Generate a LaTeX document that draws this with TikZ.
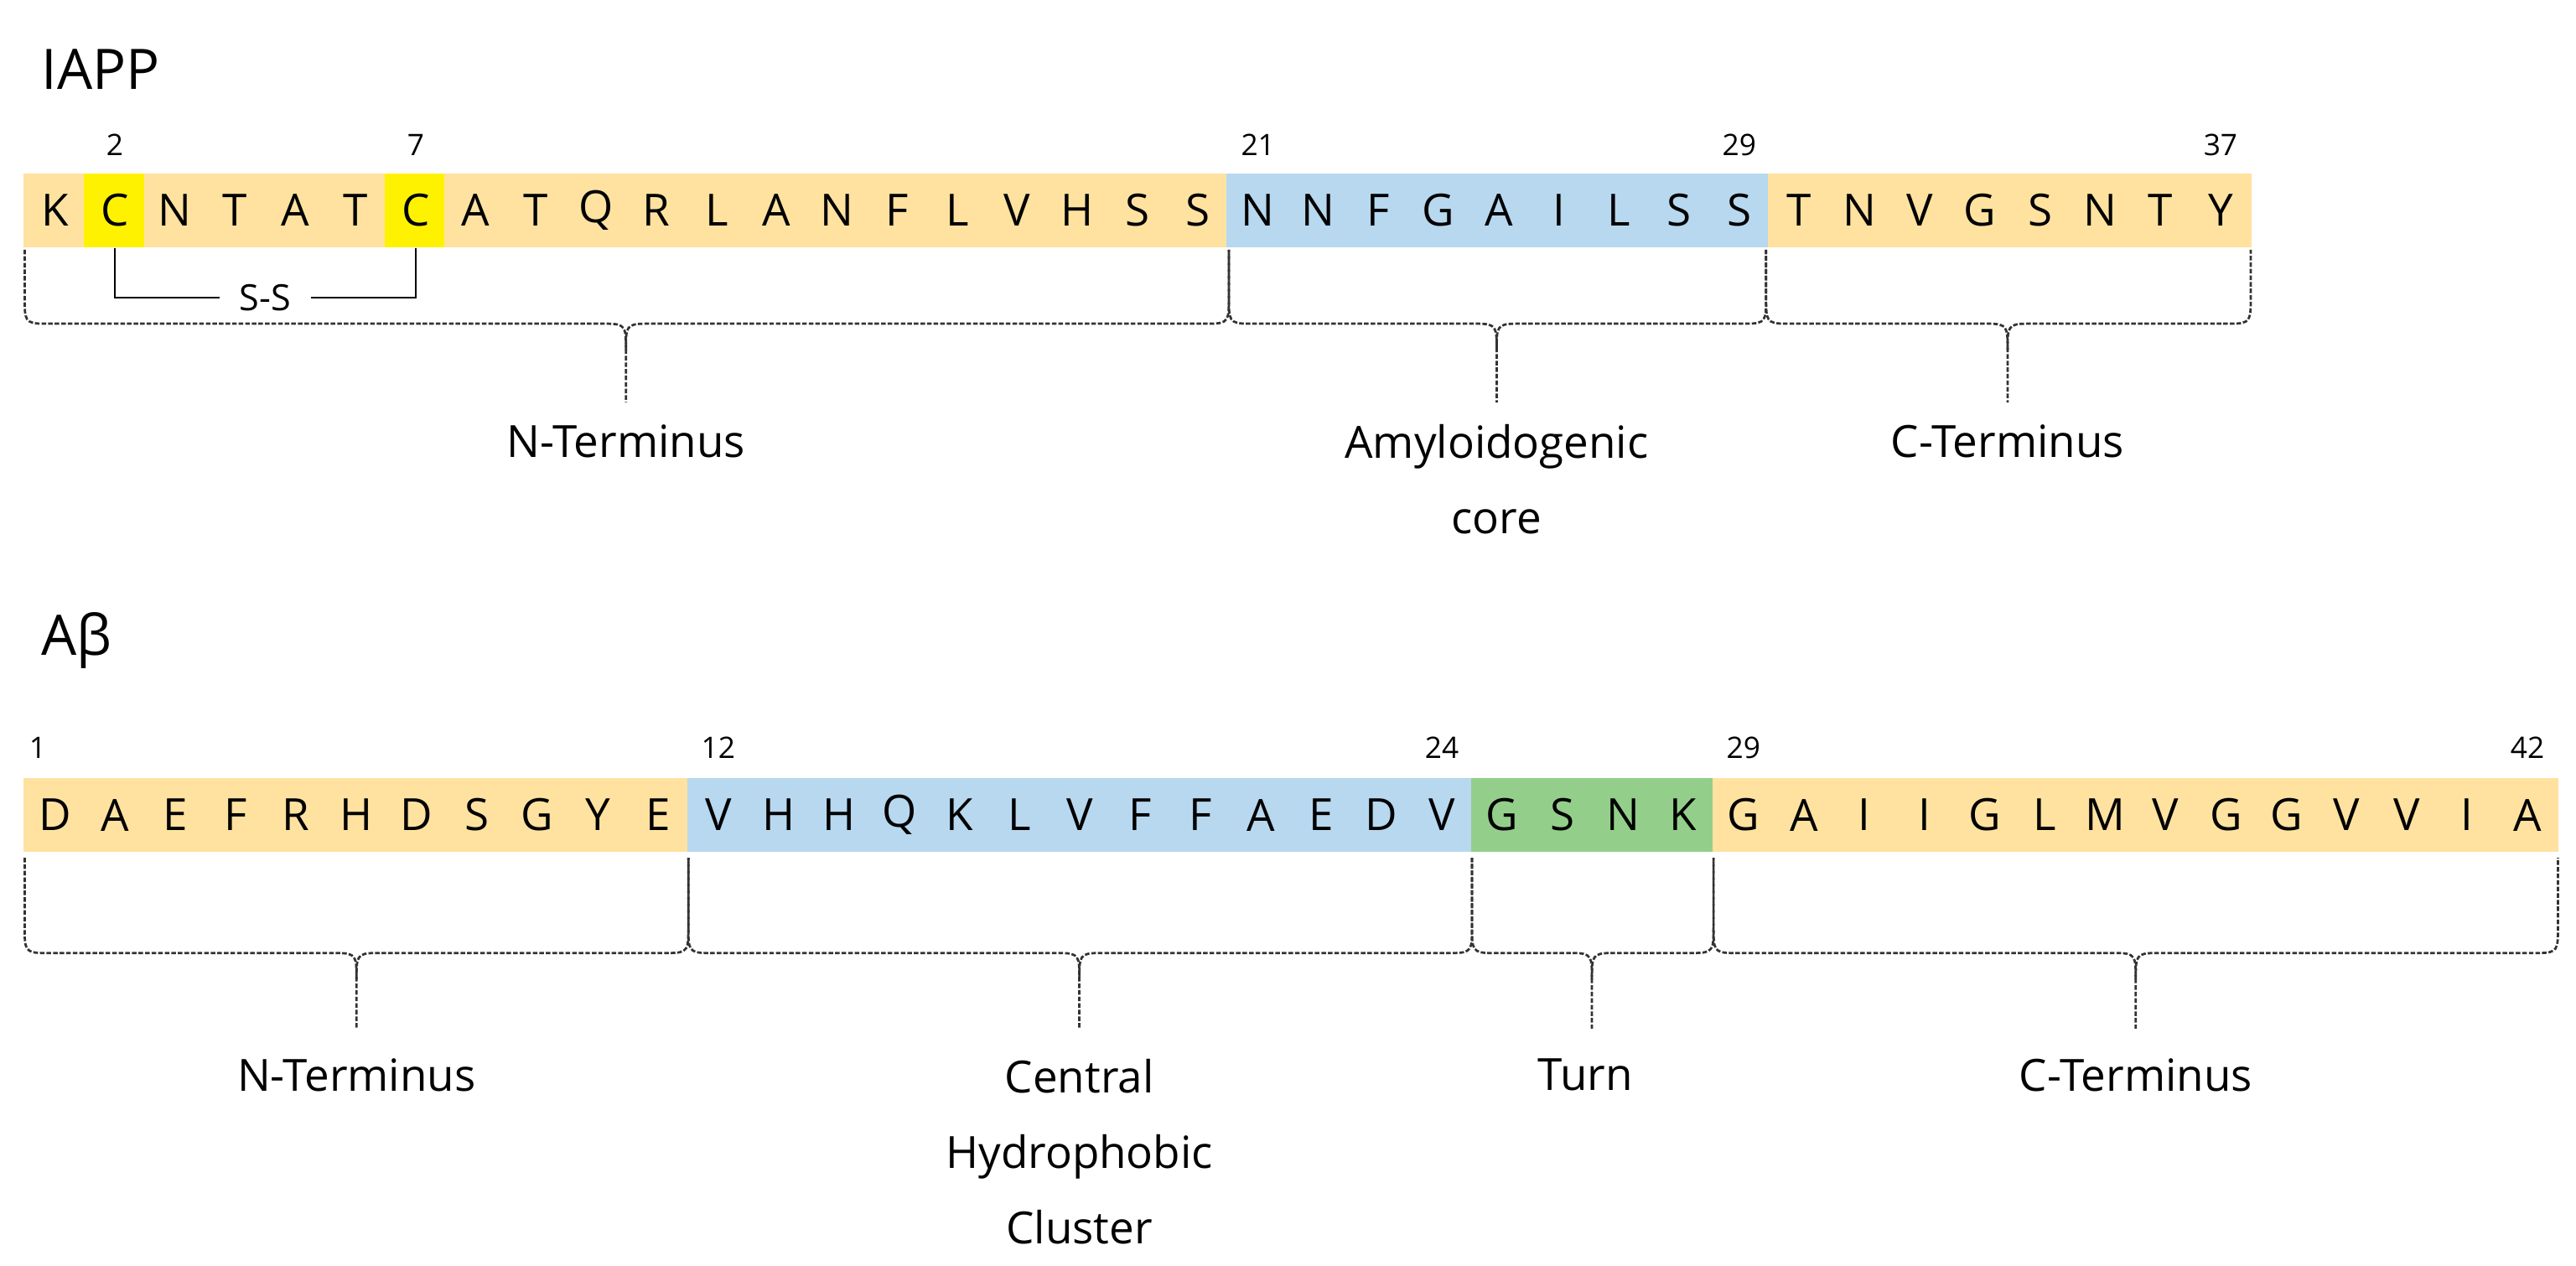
\documentclass[tikz,border=0pt]{standalone}
\usepackage{fontspec}
\setmainfont{Open Sans}
\begin{document}
\begin{tikzpicture}[x=0.5pt,y=-0.5pt,
  cellbox/.style={minimum width=19pt,minimum height=22.5pt,inner sep=0pt,font=\fontsize{13.5}{14}\selectfont,anchor=center},
  orn/.style={cellbox,fill=orng},
  blu/.style={cellbox,fill=blu1},
  grn/.style={cellbox,fill=grn1},
  yel/.style={cellbox,fill=yellow},
  numlab/.style={font=\fontsize{9}{10}\selectfont,inner sep=0pt},
  lab/.style={font=\fontsize{13.5}{23}\selectfont,align=center,inner sep=0pt,anchor=north},
  ttl/.style={font=\fontsize{17}{18}\selectfont,inner sep=0pt,anchor=west},
  brc/.style={draw=black!80,line width=0.7pt,dash pattern=on 1.4pt off 0.6pt}]
\definecolor{orng}{HTML}{FFE2A0}
\definecolor{blu1}{HTML}{B7D8EF}
\definecolor{grn1}{HTML}{93CF8A}
\useasboundingbox (0,0) rectangle (1568,770);
\newcommand{\dbr}[6]{% xa xb xm y0 y1 y2
  \draw[brc] (#1,#4) -- (#1,{#5-16}) .. controls (#1,{#5-2}) and (#1,#5) .. ({#1+12},#5) -- ({#3-12},#5) .. controls (#3,#5) and (#3,{#5+2}) .. (#3,{#5+16}) -- (#3,#6);
  \draw[brc] (#3,{#5+16}) .. controls (#3,{#5+2}) and (#3,#5) .. ({#3+12},#5) -- ({#2-12},#5) .. controls (#2,#5) and (#2,{#5-2}) .. (#2,{#5-16}) -- (#2,#4);}
% IAPP
\node[ttl] (tI) at (25,42) {IAPP};
\def\wI{36.62}
\foreach \L [count=\i] in {K,C,N,T,A,T,C,A,T,Q,R,L,A,N,F,L,V,H,S,S,N,N,F,G,A,I,L,S,S,T,N,V,G,S,N,T,Y}{
  \ifnum\i=2 \def\st{yel}\else\ifnum\i=7 \def\st{yel}\else
  \ifnum\i>20 \ifnum\i<30 \def\st{blu}\else\def\st{orn}\fi\else\def\st{orn}\fi\fi\fi
  \node[\st] (i\i) at ({15+(\i-0.5)*\wI},128) {\L};
}
\foreach \n in {2,7,21,29,37}{\node[numlab] (ni\n) at ({15+(\n-0.5)*\wI},88) {\n};}
\node[font=\fontsize{11}{12}\selectfont,inner sep=1pt] (ss) at (161.5,181) {S-S};
\draw[line width=0.6pt] (i2.south) |- ([xshift=-14pt]ss.center);
\draw[line width=0.6pt] (i7.south) |- ([xshift=14pt]ss.center);
\dbr{15}{748}{381}{152}{197}{245}
\dbr{748}{1075}{911}{152}{197}{245}
\dbr{1075}{1370}{1222}{152}{197}{245}
\node[lab] (l1) at (381,258) {N-Terminus};
\node[lab] (l2) at (911,258) {Amyloidogenic\\core};
\node[lab] (l3) at (1222,258) {C-Terminus};
% Abeta
\node[ttl] (tA) at (25,390) {Aβ};
\def\wA{36.71}
\foreach \L [count=\i] in {D,A,E,F,R,H,D,S,G,Y,E,V,H,H,Q,K,L,V,F,F,A,E,D,V,G,S,N,K,G,A,I,I,G,L,M,V,G,G,V,V,I,A}{
  \ifnum\i<12 \def\st{orn}\else\ifnum\i<25 \def\st{blu}\else\ifnum\i<29 \def\st{grn}\else\def\st{orn}\fi\fi\fi
  \node[\st] (a\i) at ({15+(\i-0.5)*\wA},496) {\L};
}
\node[numlab] (na1) at (23,455) {1};
\foreach \n in {12,24,29,42}{\node[numlab] (na\n) at ({15+(\n-0.5)*\wA},455) {\n};}
\dbr{15}{419}{217}{522}{580}{626}
\dbr{419}{896}{657}{522}{580}{626}
\dbr{896}{1043}{969}{522}{580}{626}
\dbr{1043}{1557}{1300}{522}{580}{626}
\node[lab] (m1) at (217,644) {N-Terminus};
\node[lab] (m2) at (657,644) {Central\\Hydrophobic\\Cluster};
\node[lab] (m3) at (965,644) {Turn};
\node[lab] (m4) at (1300,644) {C-Terminus};
\end{tikzpicture}
\end{document}
